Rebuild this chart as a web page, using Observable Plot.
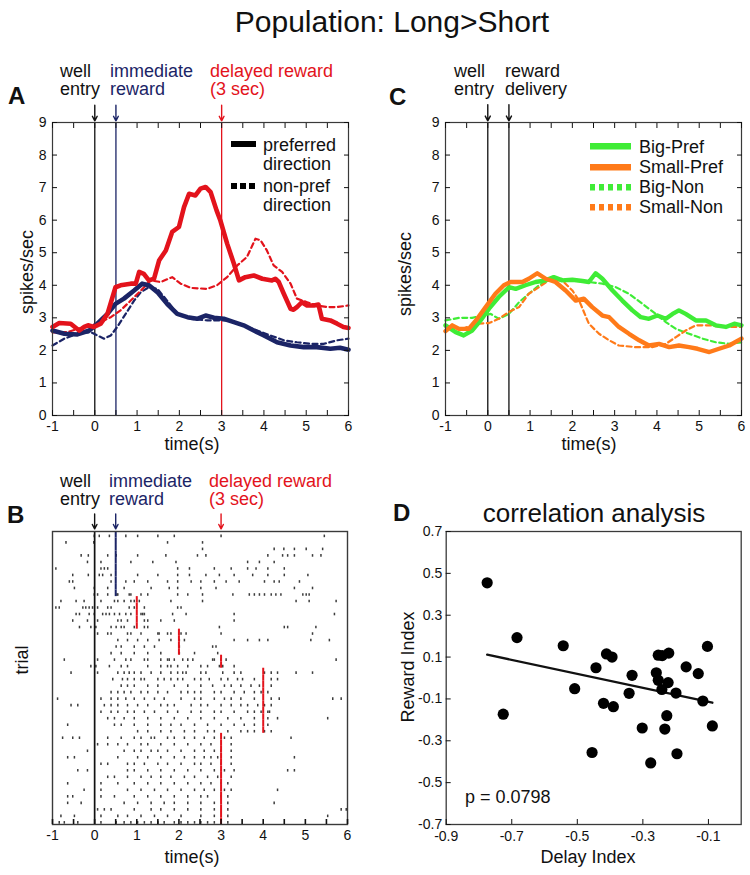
<!DOCTYPE html>
<html>
<head>
<meta charset="utf-8">
<script src="https://cdn.jsdelivr.net/npm/d3@7"></script>
<script src="https://cdn.jsdelivr.net/npm/@observablehq/plot@0.6"></script>
<style>
  html, body { margin: 0; padding: 0; background: #fff; }
  #root { position: relative; width: 750px; height: 875px; overflow: hidden;
          font-family: "Liberation Sans", Arial, Helvetica, sans-serif; color: #111; }
  .t { position: absolute; white-space: pre; }
  .pan { position: absolute; }
</style>
</head>
<body>
<div id="root"></div>
<script>
// ---------------- DATA ----------------
const timeTicks = [-1, 0, 1, 2, 3, 4, 5, 6];
const timeHalfTicks = [-1, -0.5, 0, 0.5, 1, 1.5, 2, 2.5, 3, 3.5, 4, 4.5, 5, 5.5, 6];
const rateTicks = [0, 1, 2, 3, 4, 5, 6, 7, 8, 9];

// Panel A: firing rate (spikes/sec) vs time (s)
const longPref = [[-1,2.72],[-0.84,2.84],[-0.57,2.82],[-0.37,2.61],[-0.25,2.72],[-0.16,2.77],[-0.02,2.72],[0.14,2.82],[0.30,3.12],[0.49,3.94],[0.61,4.0],[0.85,4.05],[0.97,4.05],[1.05,4.41],[1.16,4.35],[1.28,4.15],[1.40,4.2],[1.52,4.76],[1.68,5.07],[1.83,5.64],[1.99,5.79],[2.11,6.40],[2.23,6.81],[2.38,6.76],[2.50,6.97],[2.62,7.02],[2.74,6.86],[2.88,6.30],[2.97,5.99],[3.13,5.28],[3.29,4.66],[3.41,4.15],[3.56,4.25],[3.76,4.30],[3.96,4.20],[4.19,4.15],[4.27,4.20],[4.35,4.10],[4.47,3.74],[4.63,3.28],[4.70,3.25],[4.78,3.33],[4.90,3.48],[5.02,3.38],[5.18,3.38],[5.29,3.41],[5.37,2.97],[5.57,2.92],[5.73,2.82],[5.88,2.72],[6.0,2.69]];
const longNon = [[-1,2.55],[-0.65,2.56],[-0.25,2.72],[0.06,2.82],[0.38,3.02],[0.61,3.23],[0.85,3.53],[1.09,3.84],[1.32,4.15],[1.56,4.10],[1.83,4.25],[2.03,4.05],[2.27,3.92],[2.66,3.89],[2.89,4.0],[3.13,4.25],[3.37,4.61],[3.60,4.87],[3.80,5.43],[3.92,5.38],[4.07,5.07],[4.23,4.61],[4.43,4.41],[4.63,4.05],[4.78,3.59],[5.02,3.48],[5.25,3.38],[5.49,3.33],[5.73,3.33],[6,3.38]];
const shortPref = [[-1,2.61],[-0.72,2.51],[-0.41,2.49],[-0.13,2.61],[0.06,2.82],[0.30,3.12],[0.49,3.43],[0.69,3.59],[0.93,3.84],[1.12,4.05],[1.28,4.0],[1.48,3.79],[1.71,3.43],[1.95,3.12],[2.19,3.02],[2.42,2.97],[2.62,3.07],[2.82,3.0],[3.05,2.97],[3.29,2.87],[3.52,2.77],[3.76,2.61],[4.0,2.46],[4.31,2.25],[4.63,2.15],[4.94,2.10],[5.25,2.10],[5.57,2.05],[5.80,2.08],[6,2.02]];
const shortNon = [[-1,2.15],[-0.72,2.36],[-0.41,2.51],[-0.10,2.56],[0.06,2.46],[0.22,2.36],[0.38,2.46],[0.53,2.72],[0.73,3.12],[0.93,3.53],[1.09,3.79],[1.28,3.94],[1.48,3.89],[1.71,3.53],[1.95,3.12],[2.27,2.97],[2.66,2.92],[3.13,2.92],[3.52,2.77],[3.84,2.61],[4.15,2.46],[4.47,2.31],[4.78,2.25],[5.10,2.20],[5.41,2.20],[5.73,2.31],[6,2.36]];

// Panel C
const bigPref = [[-1,2.77],[-0.76,2.56],[-0.57,2.46],[-0.37,2.61],[-0.17,2.92],[0.03,3.28],[0.26,3.64],[0.50,3.94],[0.66,3.89],[0.89,4.0],[1.13,4.10],[1.37,4.15],[1.56,4.25],[1.76,4.15],[2.0,4.17],[2.24,4.13],[2.39,4.10],[2.55,4.37],[2.71,4.20],[2.95,3.84],[3.18,3.53],[3.42,3.23],[3.62,3.02],[3.81,2.97],[4.01,3.07],[4.21,2.97],[4.37,3.12],[4.52,3.23],[4.68,3.12],[4.92,2.92],[5.16,2.92],[5.39,2.77],[5.63,2.72],[5.83,2.82],[6,2.77]];
const smallPref = [[-1,2.59],[-0.84,2.77],[-0.68,2.66],[-0.45,2.66],[-0.25,2.97],[-0.05,3.33],[0.18,3.74],[0.38,4.0],[0.54,4.10],[0.82,4.10],[0.97,4.20],[1.17,4.37],[1.37,4.20],[1.60,4.10],[1.84,3.84],[2.08,3.53],[2.27,3.59],[2.47,3.33],[2.71,3.07],[2.87,3.02],[3.10,2.72],[3.34,2.51],[3.58,2.31],[3.81,2.15],[4.05,2.20],[4.29,2.10],[4.52,2.15],[4.76,2.10],[4.96,2.05],[5.24,1.95],[5.47,2.05],[5.71,2.15],[6,2.36]];
const bigNon = [[-1,2.92],[-0.68,3.0],[-0.37,3.0],[-0.13,3.07],[0.07,3.12],[0.26,2.97],[0.50,3.12],[0.74,3.48],[0.97,3.74],[1.21,4.0],[1.44,4.15],[1.76,4.20],[2.08,4.15],[2.39,4.10],[2.71,4.05],[3.03,3.94],[3.34,3.74],[3.66,3.43],[3.97,3.12],[4.21,2.87],[4.45,2.66],[4.76,2.51],[5.08,2.36],[5.39,2.25],[5.71,2.20],[6,2.25]];
const smallNon = [[-1,2.72],[-0.6,2.66],[-0.29,2.82],[0.03,2.84],[0.26,2.97],[0.50,3.18],[0.74,3.33],[0.97,3.74],[1.21,3.94],[1.44,4.15],[1.76,4.15],[2.0,3.84],[2.16,3.53],[2.39,2.82],[2.63,2.51],[2.87,2.31],[3.10,2.15],[3.50,2.10],[3.89,2.10],[4.21,2.20],[4.45,2.41],[4.68,2.61],[4.92,2.77],[5.24,2.77],[5.55,2.72],[5.79,2.72],[6,2.72]];

// Panel B: spike raster (spike times per trial, s) and reward time per trial
const spikeTimes = [
  [-0.01,0.11,0.35,0.74,1.02,1.50,1.89,3.00,5.45],
  [-0.68,-0.02,1.73,2.56],
  [2.56,4.26,4.49,4.74,5.02,5.41],
  [-0.32,-0.15,0.31,0.51,1.02,1.69,2.44,2.64,4.11,4.46,4.58,4.74,5.17,5.37],
  [-0.17,0.15,0.86,1.38,1.93,3.63,3.91,4.26],
  [-0.92,0.15,0.23,0.31,1.97,2.25,2.84,3.24,3.63,3.83,4.11,4.50],
  [-0.52,-0.15,0.11,0.19,0.39,1.02,1.50,1.97,2.25,2.64,2.96,3.31,3.75,4.11,4.50,5.06],
  [-0.60,-0.52,0.39,0.74,0.94,1.26,1.73,1.97,2.29,2.52,2.84,3.12,3.43,4.03,4.26,4.38,4.86],
  [-0.48,-0.01,0.31,0.70,1.34,1.77,1.97,2.52,2.88,4.74,5.17],
  [-0.01,0.07,0.31,0.53,0.55,0.82,0.86,1.10,1.26,1.97,2.21,2.56,3.28,3.67,3.79,3.91,4.03,4.19,4.30,4.42,4.94,5.02,5.09],
  [-0.80,-0.44,-0.25,0.15,0.47,0.55,0.70,0.86,0.94,1.06,1.81,2.56,4.78,5.09,5.73],
  [-0.92,-0.84,-0.28,-0.21,-0.13,-0.05,0.07,0.31,0.39,0.82,0.94,1.18,1.97,2.05],
  [-0.44,-0.36,-0.13,-0.01,0.19,0.27,0.35,0.47,0.59,0.74,0.86,1.10,1.14,1.18,1.85,2.17,3.31,5.69],
  [-0.52,-0.17,0.07,0.55,0.63,0.78,1.18,1.26,1.57,1.89,3.31],
  [-0.36,-0.09,0.03,0.39,0.51,0.63,0.70,0.94,1.18,1.26,2.96,4.50,4.58,5.25],
  [0.07,0.31,0.39,0.78,0.86,1.10,1.50,1.53,1.73,1.81,2.05,2.17,3.00,5.17],
  [0.55,0.78,1.02,1.26,1.53,1.81,2.01,2.13,3.31,3.63,3.91,4.11,5.13,5.57],
  [0.51,0.63,0.94,1.18,1.42,2.01,2.80,2.88],
  [0.39,0.63,0.94,1.26,1.57,2.01,2.37,2.92],
  [-0.72,0.07,0.47,0.74,0.86,1.18,1.26,1.57,1.73,1.77,1.89,2.09,2.21,2.33,2.80,2.84,3.00,3.12,5.73],
  [-0.09,0.03,0.35,0.63,0.78,1.26,1.57,1.73,1.81,1.97,2.21,2.52,2.68,2.96,3.04,3.31],
  [-0.56,0.07,0.55,0.70,0.82,0.94,1.10,1.34,1.57,1.81,1.97,2.09,2.17,2.52,2.64,3.04,3.31,3.47,4.03,4.19,4.34,4.78,5.17],
  [0.43,0.66,0.78,0.94,1.10,1.18,1.50,1.65,1.81,1.97,2.09,2.37,2.52,2.72,3.00,3.16,3.39,3.51,3.79,4.19,4.34],
  [0.63,0.78,0.94,1.26,1.50,1.89,2.21,2.52,2.80,3.08,3.24,3.47,3.71,3.91,4.19],
  [0.39,0.55,0.70,0.86,1.10,1.26,1.50,1.73,2.05,2.21,2.37,2.52,2.84,3.00,3.31,3.55,3.79,3.95,4.11],
  [-0.88,0.15,0.39,0.55,0.74,0.94,1.18,1.42,1.65,2.05,2.37,2.52,2.84,3.08,3.24,3.47,3.79,4.19,4.38,5.65,5.85],
  [-0.56,-0.40,0.23,0.39,0.55,0.78,1.02,1.26,1.57,1.73,1.89,2.29,2.52,2.68,3.00,3.24,3.47,3.63,3.87,4.03,4.19],
  [0.15,0.39,0.55,0.78,0.94,1.18,1.42,1.73,1.97,2.29,2.52,2.84,3.00,3.31,3.63,3.79,3.95,4.11,4.15],
  [0.31,0.47,0.70,0.94,1.26,1.57,1.89,2.21,2.52,2.84,3.16,3.47,3.79,4.11,4.34,5.53],
  [-0.64,0.47,0.63,0.94,1.26,1.57,1.81,2.05,2.37,2.68,3.00,3.31,3.55,3.79,4.11],
  [1.02,1.26,1.57,1.81,2.13,2.37,2.68,2.84,3.16,3.47,3.63,3.79,4.03,4.19],
  [-0.76,-0.52,-0.36,0.31,0.63,0.94,1.10,1.34,1.42,1.73,1.89,2.13,2.37,2.60,2.84,3.08,3.24,4.66],
  [0.07,0.31,0.55,0.78,1.10,1.26,1.57,1.89,2.21,2.52,2.76,3.24],
  [-0.17,0.70,0.94,1.10,1.34,1.50,1.73,2.05,2.37,2.60,2.84,3.00,3.24],
  [-0.64,-0.48,0.55,1.02,1.26,1.57,1.89,2.13,2.37,2.60,2.76,2.92,3.24,4.74],
  [0.15,0.31,0.78,0.94,1.18,1.50,1.73,2.05,2.37,2.52,2.76,3.00,3.24],
  [-0.40,-0.17,0.78,0.94,1.26,1.57,1.89,2.21,2.52,2.84,3.08,3.31,4.58,4.74],
  [0.31,0.47,0.78,1.10,1.34,1.57,1.81,2.13,2.37,2.68,2.92,3.24],
  [-0.64,0.15,0.55,0.94,1.26,1.57,1.89,2.21,2.52,2.76,3.00,3.16],
  [-0.25,0.15,0.78,1.10,1.42,1.73,2.05,2.37,2.60,2.84,3.08,3.24,4.34],
  [-0.64,-0.52,0.15,0.47,0.94,1.26,1.57,1.89,2.21,2.52,2.68,3.00,3.16],
  [-0.64,-0.32,0.70,1.02,1.34,1.65,1.89,2.21,2.52,2.84,3.16,4.26],
  [0.07,0.23,0.39,0.94,1.34,1.57,1.89,2.21,2.52,2.84,3.16,5.85,5.97],
  [-0.80,-0.48,0.15,0.55,0.78,1.10,1.42,1.73,2.05,2.52,2.84,3.16,5.53],
  [-0.84,-0.72,-0.40,0.15,0.51,0.70,0.86,1.02,1.18,1.34,1.50,1.65,1.89,2.05,2.21,2.37,2.52,2.68,2.84,3.16]
];
const rewardTimes = [0.5,0.5,0.5,0.5,0.5,0.5,0.5,0.5,0.5,0.5, 1,1,1,1,1, 2,2,2,2, 3,3, 4,4,4,4,4,4,4,4,4,4, 3,3,3,3,3,3,3,3,3,3,3,3,3,3];

// Panel D: correlation analysis
const delayIndex  = [-0.775,-0.726,-0.684,-0.543,-0.508,-0.455,-0.443,-0.420,-0.411,-0.394,-0.390,-0.342,-0.333,-0.302,-0.276,-0.259,-0.253,-0.253,-0.241,-0.242,-0.233,-0.227,-0.223,-0.221,-0.199,-0.196,-0.168,-0.131,-0.117,-0.103,-0.088];
const rewardIndex = [0.455,-0.173,0.193,0.154,-0.051,-0.356,0.049,-0.121,0.115,0.100,-0.137,-0.073,0.013,-0.239,-0.406,0.025,0.109,-0.011,0.107,-0.055,-0.244,-0.180,-0.022,0.119,-0.072,-0.362,0.053,0.021,-0.110,0.151,-0.229];
const delayTicks = [-0.9, -0.7, -0.5, -0.3, -0.1];
const rewardTicks = [-0.7, -0.5, -0.3, -0.1, 0.1, 0.3, 0.5, 0.7];

// ---------------- STYLE ----------------
const FONT = '"Liberation Sans", Arial, Helvetica, sans-serif';
const RED = "#e3131c", NAVY = "#1b2466", GREEN = "#3fec36", ORANGE = "#ff7a19", INK = "#111";
const FRAME = "#3a3a3a";
const TICK = 5;
const root = document.getElementById("root");

function addPlot(svg, left, top) {
  const d = document.createElement("div");
  d.className = "pan";
  d.style.left = left + "px"; d.style.top = top + "px";
  d.appendChild(svg);
  root.appendChild(d);
}
function addText(s, x, y, {size = 18, color = INK, bold = false, align = "left", rotate = 0, lh = null, vcenter = true} = {}) {
  const d = document.createElement("div");
  d.className = "t";
  d.textContent = s;
  d.style.left = x + "px"; d.style.top = y + "px";
  d.style.fontSize = size + "px";
  d.style.color = color;
  d.style.fontWeight = bold ? 700 : 400;
  d.style.lineHeight = lh ? lh + "px" : "1";
  const tx = align === "center" ? "-50%" : align === "right" ? "-100%" : "0";
  const ty = vcenter ? "-50%" : "0";
  d.style.transform = `translate(${tx},${ty})` + (rotate ? ` rotate(${rotate}deg)` : "");
  root.appendChild(d);
}
function addSwatch(x, y, w, thick, color, dash) {
  const ns = "http://www.w3.org/2000/svg";
  const s = document.createElementNS(ns, "svg");
  s.setAttribute("width", w); s.setAttribute("height", thick + 2);
  s.style.position = "absolute"; s.style.left = x + "px"; s.style.top = (y - (thick + 2) / 2) + "px";
  const l = document.createElementNS(ns, "line");
  l.setAttribute("x1", 0); l.setAttribute("x2", w);
  l.setAttribute("y1", (thick + 2) / 2); l.setAttribute("y2", (thick + 2) / 2);
  l.setAttribute("stroke", color); l.setAttribute("stroke-width", thick);
  if (dash) l.setAttribute("stroke-dasharray", dash);
  s.appendChild(l);
  root.appendChild(s);
}

const rows = (arr) => arr.map(([t, v]) => ({t, v}));
const baseStyle = {fontFamily: FONT, fontSize: "14px", color: INK, background: "transparent", overflow: "visible"};
const fmtInt = d => String(d);
const fmt1 = d => d.toFixed(1);
const blank = () => "";

// inward ticks: normal ticks shifted inside the frame by their own length
const inTicksBottom = (ticks, sw = 1) => Plot.axisX({ticks, anchor: "bottom", tickSize: TICK, dy: -TICK, tickFormat: blank, label: null, strokeWidth: sw});
const inTicksTop = (ticks) => Plot.axisX({ticks, anchor: "top", tickSize: TICK, dy: TICK, tickFormat: blank, label: null});
const inTicksLeft = (ticks) => Plot.axisY({ticks, anchor: "left", tickSize: TICK, dx: TICK, tickFormat: blank, label: null});
const inTicksRight = (ticks) => Plot.axisY({ticks, anchor: "right", tickSize: TICK, dx: -TICK, tickFormat: blank, label: null});

function rateAxes() {
  return [
    Plot.frame({stroke: FRAME, strokeWidth: 1.2}),
    inTicksBottom(timeHalfTicks),
    inTicksTop(timeHalfTicks),
    inTicksLeft(rateTicks),
    inTicksRight(rateTicks),
    Plot.axisX({ticks: timeTicks, anchor: "bottom", tickSize: 0, tickPadding: 6, tickFormat: fmtInt, label: null}),
    Plot.axisY({ticks: rateTicks, anchor: "left", tickSize: 0, tickPadding: 6, tickFormat: fmtInt, label: null})
  ];
}

// ---------------- PANEL A ----------------
const eventsA = [{t: 0, color: INK}, {t: 0.5, color: NAVY}, {t: 3, color: RED}];
addPlot(Plot.plot({
  width: 375, height: 400,
  marginTop: 62, marginBottom: 45, marginLeft: 52, marginRight: 27,
  x: {domain: [-1, 6]}, y: {domain: [0, 9]},
  style: baseStyle,
  marks: [
    Plot.ruleX(eventsA, {x: "t", stroke: "color", strokeWidth: 1.3}),
    Plot.line(rows(shortNon), {x: "t", y: "v", stroke: NAVY, strokeWidth: 2.2, strokeDasharray: "5,3.5"}),
    Plot.line(rows(longNon), {x: "t", y: "v", stroke: RED, strokeWidth: 2.2, strokeDasharray: "5,3.5"}),
    Plot.line(rows(shortPref), {x: "t", y: "v", stroke: NAVY, strokeWidth: 4.6, strokeLinejoin: "round"}),
    Plot.line(rows(longPref), {x: "t", y: "v", stroke: RED, strokeWidth: 4.6, strokeLinejoin: "round"}),
    ...rateAxes(),
    Plot.arrow(eventsA, {x1: "t", x2: "t", y1: 9.53, y2: 9.05, stroke: "color", strokeWidth: 1.4, headLength: 7, headAngle: 55})
  ]
}), 0, 60);

// ---------------- PANEL C ----------------
const eventsC = [{t: 0}, {t: 0.5}];
addPlot(Plot.plot({
  width: 375, height: 400,
  marginTop: 62, marginBottom: 45, marginLeft: 70, marginRight: 9,
  x: {domain: [-1, 6]}, y: {domain: [0, 9]},
  style: baseStyle,
  marks: [
    Plot.ruleX(eventsC, {x: "t", stroke: INK, strokeWidth: 1.3}),
    Plot.line(rows(bigNon), {x: "t", y: "v", stroke: GREEN, strokeWidth: 2.2, strokeDasharray: "5,3.5"}),
    Plot.line(rows(smallNon), {x: "t", y: "v", stroke: ORANGE, strokeWidth: 2.2, strokeDasharray: "5,3.5"}),
    Plot.line(rows(bigPref), {x: "t", y: "v", stroke: GREEN, strokeWidth: 4.4, strokeLinejoin: "round"}),
    Plot.line(rows(smallPref), {x: "t", y: "v", stroke: ORANGE, strokeWidth: 4.4, strokeLinejoin: "round"}),
    ...rateAxes(),
    Plot.arrow(eventsC, {x1: "t", x2: "t", y1: 9.55, y2: 9.05, stroke: INK, strokeWidth: 1.4, headLength: 7, headAngle: 55})
  ]
}), 375, 60);

// ---------------- PANEL B ----------------
const spikes = spikeTimes.flatMap((arr, i) => arr.map(t => ({trial: i + 1, t})));
const rewards = rewardTimes.map((t, i) => ({trial: i + 1, t}));
const eventsB = [{t: 0, color: INK}, {t: 0.5, color: NAVY}, {t: 3, color: RED}];
addPlot(Plot.plot({
  width: 375, height: 415,
  marginTop: 71, marginBottom: 51, marginLeft: 52, marginRight: 28,
  x: {domain: [-1, 6]}, y: {domain: [0, 45], reverse: true, axis: null},
  style: baseStyle,
  marks: [
    Plot.ruleX(spikes, {x: "t", y1: d => d.trial - 0.45, y2: d => d.trial - 0.05, stroke: "#3c3c3c", strokeWidth: 1.5}),
    Plot.ruleX([0], {stroke: INK, strokeWidth: 1.7}),
    Plot.ruleX(rewards, {x: "t", y1: d => d.trial - 1, y2: d => d.trial, stroke: d => d.t === 0.5 ? NAVY : RED, strokeWidth: 2}),
    Plot.frame({stroke: FRAME, strokeWidth: 1.4}),
    inTicksBottom(timeHalfTicks, 1.6),
    Plot.axisX({ticks: timeTicks, anchor: "bottom", tickSize: 0, tickPadding: 6, tickFormat: fmtInt, label: null}),
    Plot.arrow(eventsB, {x1: "t", x2: "t", y1: -2.7, y2: -0.4, stroke: "color", strokeWidth: 1.4, headLength: 7, headAngle: 55})
  ]
}), 0, 460);

// ---------------- PANEL D ----------------
const points = delayIndex.map((x, i) => ({x, y: rewardIndex[i]}));
addPlot(Plot.plot({
  width: 375, height: 415,
  marginTop: 71, marginBottom: 51, marginLeft: 70.7, marginRight: 9.3,
  x: {domain: [-0.9, 0]}, y: {domain: [-0.7, 0.7]},
  style: baseStyle,
  marks: [
    Plot.frame({stroke: FRAME, strokeWidth: 1.3}),
    inTicksBottom(delayTicks),
    inTicksLeft(rewardTicks),
    Plot.axisX({ticks: delayTicks, anchor: "bottom", tickSize: 0, tickPadding: 7, tickFormat: fmt1, label: null}),
    Plot.axisY({ticks: rewardTicks, anchor: "left", tickSize: 0, tickPadding: 4, tickFormat: fmt1, label: null}),
    Plot.linearRegressionY(points, {x: "x", y: "y", ci: 0, stroke: INK, strokeWidth: 2.3}),
    Plot.dot(points, {x: "x", y: "y", r: 5.6, fill: "#000", stroke: "none"})
  ]
}), 375, 460);

// ---------------- TEXT ----------------
addText("Population: Long>Short", 392, 22, {size: 30, align: "center"});

// panel letters
addText("A", 8, 96, {size: 24, bold: true});
addText("C", 389, 97, {size: 24, bold: true});
addText("B", 7, 515, {size: 24, bold: true});
addText("D", 393, 513, {size: 24, bold: true});

// event annotations
addText("well\nentry", 60, 63, {lh: 17.5, vcenter: false});
addText("immediate\nreward", 110, 63, {lh: 17.5, vcenter: false, color: NAVY});
addText("delayed reward\n(3 sec)", 210, 63, {lh: 17.5, vcenter: false, color: RED});
addText("well\nentry", 454, 63, {lh: 17.5, vcenter: false});
addText("reward\ndelivery", 505, 63, {lh: 17.5, vcenter: false});
addText("well\nentry", 60, 471.5, {lh: 18.3, vcenter: false});
addText("immediate\nreward", 109, 471.5, {lh: 18.3, vcenter: false, color: NAVY});
addText("delayed reward\n(3 sec)", 209, 471.5, {lh: 18.3, vcenter: false, color: RED});

// axis titles
addText("spikes/sec", 27, 272, {align: "center", rotate: -90});
addText("time(s)", 192, 444, {align: "center"});
addText("spikes/sec", 405, 274, {align: "center", rotate: -90});
addText("time(s)", 589, 444, {align: "center"});
addText("trial", 22, 660, {align: "center", rotate: -90});
addText("time(s)", 192, 857, {align: "center"});
addText("Reward Index", 408, 667, {align: "center", rotate: -90});
addText("Delay Index", 588, 857, {align: "center"});
addText("correlation analysis", 594, 513, {size: 26, align: "center"});
addText("p = 0.0798", 465, 797, {size: 18});

// legend A
addSwatch(231, 144, 25, 6, "#000", null);
addText("preferred\ndirection", 263, 136, {lh: 18.5, vcenter: false});
addSwatch(231, 186, 24, 6, "#000", "6,3");
addText("non-pref\ndirection", 263, 177, {lh: 18.5, vcenter: false});

// legend C
const legC = [
  {label: "Big-Pref", color: GREEN, dash: null, y: 146.7},
  {label: "Small-Pref", color: ORANGE, dash: null, y: 167},
  {label: "Big-Non", color: GREEN, dash: "5,4", y: 187},
  {label: "Small-Non", color: ORANGE, dash: "5,4", y: 207}
];
for (const l of legC) {
  addSwatch(590, l.y, 41, 6.5, l.color, l.dash);
  addText(l.label, 639, l.y, {size: 18});
}
</script>
</body>
</html>
